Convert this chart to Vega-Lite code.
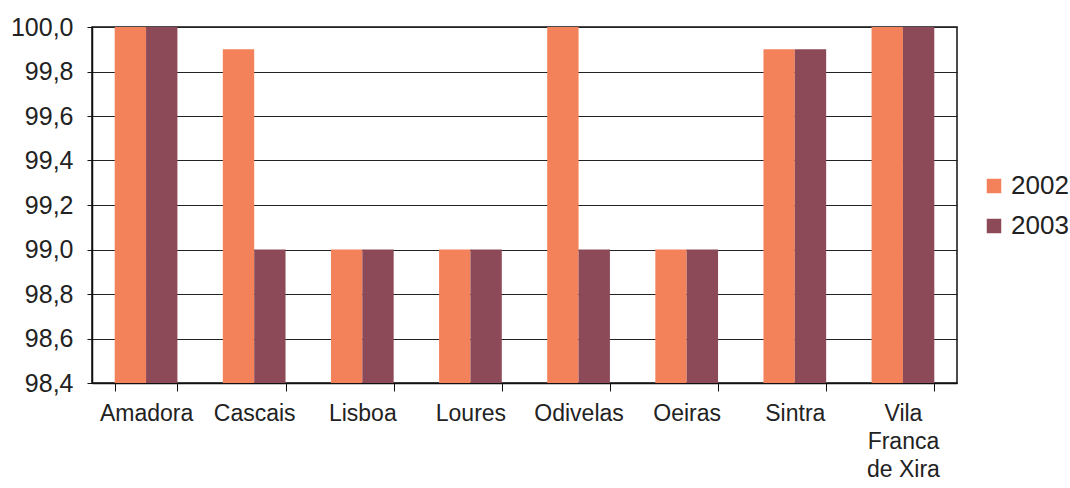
{
  "$schema": "https://vega.github.io/schema/vega-lite/v6.json",
  "autosize": "none",
  "width": 865,
  "height": 356,
  "padding": {"left": 92, "top": 27, "right": 113, "bottom": 105},
  "background": "white",
  "config": {
    "font": "Liberation Sans",
    "view": {"stroke": "#111111", "strokeWidth": 1.5}
  },
  "data": {
    "values": [
      {"municipio": "Amadora", "ano": "2002", "valor": 100.0},
      {"municipio": "Amadora", "ano": "2003", "valor": 100.0},
      {"municipio": "Cascais", "ano": "2002", "valor": 99.9},
      {"municipio": "Cascais", "ano": "2003", "valor": 99.0},
      {"municipio": "Lisboa", "ano": "2002", "valor": 99.0},
      {"municipio": "Lisboa", "ano": "2003", "valor": 99.0},
      {"municipio": "Loures", "ano": "2002", "valor": 99.0},
      {"municipio": "Loures", "ano": "2003", "valor": 99.0},
      {"municipio": "Odivelas", "ano": "2002", "valor": 100.0},
      {"municipio": "Odivelas", "ano": "2003", "valor": 99.0},
      {"municipio": "Oeiras", "ano": "2002", "valor": 99.0},
      {"municipio": "Oeiras", "ano": "2003", "valor": 99.0},
      {"municipio": "Sintra", "ano": "2002", "valor": 99.9},
      {"municipio": "Sintra", "ano": "2003", "valor": 99.9},
      {"municipio": "Vila Franca de Xira", "ano": "2002", "valor": 100.0},
      {"municipio": "Vila Franca de Xira", "ano": "2003", "valor": 100.0}
    ]
  },
  "mark": {"type": "bar", "clip": true},
  "encoding": {
    "x": {
      "field": "municipio",
      "type": "nominal",
      "sort": null,
      "scale": {"paddingInner": 0.42, "paddingOuter": 0.21},
      "axis": {
        "title": null,
        "labelAngle": 0,
        "labelFontSize": 23,
        "labelColor": "#222222",
        "labelPadding": 11,
        "labelOverlap": false,
        "labelLineHeight": 28,
        "labelBaseline": "top",
        "tickBand": "extent",
        "tickSize": 8,
        "tickColor": "#111111",
        "domainColor": "#111111",
        "domainWidth": 1.5,
        "labelExpr": "datum.value == 'Vila Franca de Xira' ? ['Vila', 'Franca', 'de Xira'] : datum.value"
      }
    },
    "xOffset": {"field": "ano", "type": "nominal"},
    "y": {
      "field": "valor",
      "type": "quantitative",
      "scale": {"domain": [98.4, 100.0], "zero": false, "nice": false},
      "axis": {
        "title": null,
        "values": [98.4, 98.6, 98.8, 99.0, 99.2, 99.4, 99.6, 99.8, 100.0],
        "labelExpr": "replace(format(datum.value, '.1f'), '.', ',')",
        "labelFontSize": 25,
        "labelColor": "#222222",
        "labelPadding": 14,
        "tickSize": 5,
        "tickColor": "#111111",
        "domainColor": "#111111",
        "domainWidth": 1.5,
        "grid": true,
        "gridColor": "#222222",
        "gridWidth": 1
      }
    },
    "color": {
      "field": "ano",
      "type": "nominal",
      "scale": {"domain": ["2002", "2003"], "range": ["#f3825a", "#8c4a58"]},
      "legend": {
        "title": null,
        "orient": "none",
        "legendX": 889,
        "legendY": 146,
        "symbolType": "square",
        "symbolSize": 210,
        "symbolStrokeWidth": 0,
        "labelFontSize": 26,
        "labelColor": "#222222",
        "rowPadding": 14,
        "labelOffset": 4
      }
    }
  }
}
